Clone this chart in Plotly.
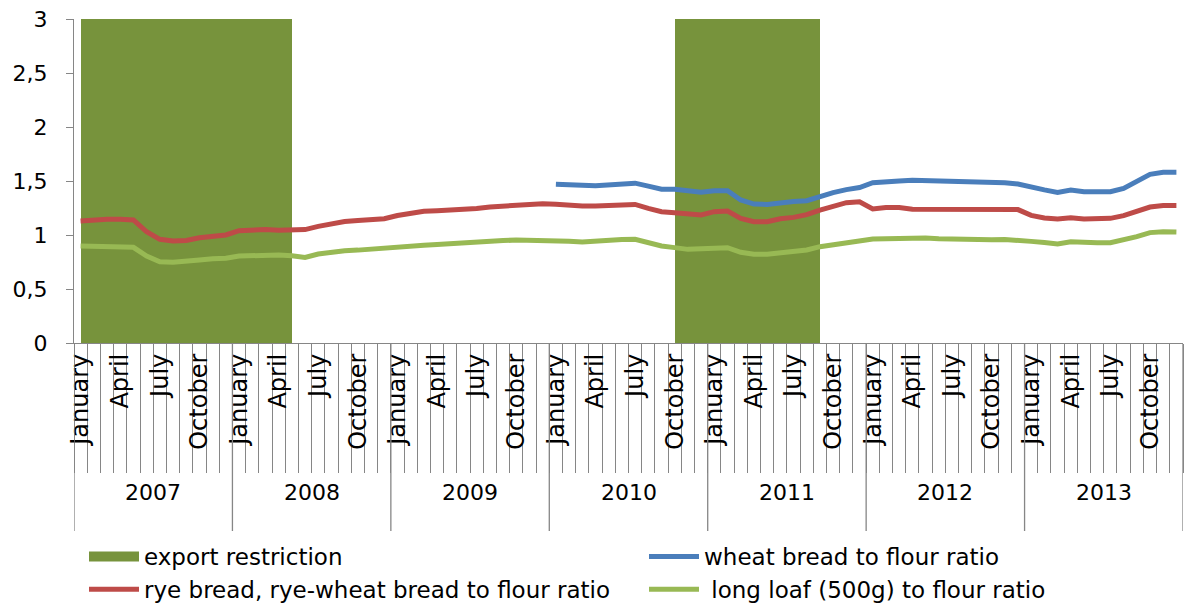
import plotly.graph_objects as go

# ---------------- data ----------------
years = ["2007", "2008", "2009", "2010", "2011", "2012", "2013"]
months = ["January", "February", "March", "April", "May", "June", "July",
          "August", "September", "October", "November", "December"]
shown_months = ["January", "April", "July", "October"]

# monthly categories 2007-01 .. 2013-12
categories = [f"{m} {y}" for y in years for m in months]

# export restriction (drawn as full-height column, value 3 = restriction in force)
export_restriction = [
    3, 3, 3, 3, 3, 3, 3, 3, 3, 3, 3, 3,   # 2007
    3, 3, 3, 3, 0, 0, 0, 0, 0, 0, 0, 0,   # 2008
    0, 0, 0, 0, 0, 0, 0, 0, 0, 0, 0, 0,   # 2009
    0, 0, 0, 0, 0, 0, 0, 0, 0, 3, 3, 3,   # 2010
    3, 3, 3, 3, 3, 3, 3, 3, 0, 0, 0, 0,   # 2011
    0, 0, 0, 0, 0, 0, 0, 0, 0, 0, 0, 0,   # 2012
    0, 0, 0, 0, 0, 0, 0, 0, 0, 0, 0, 0,   # 2013
]

wheat = [
    None, None, None, None, None, None, None, None, None, None, None, None,
    None, None, None, None, None, None, None, None, None, None, None, None,
    None, None, None, None, None, None, None, None, None, None, None, None,
    1.469, 1.469, 1.460, 1.457, 1.465, 1.480, 1.480, 1.452, 1.424, 1.424, 1.407, 1.395,
    1.410, 1.410, 1.324, 1.286, 1.283, 1.302, 1.310, 1.318, 1.361, 1.392, 1.420, 1.440,
    1.484, 1.487, 1.500, 1.506, 1.503, 1.500, 1.497, 1.491, 1.491, 1.491, 1.484, 1.472,
    1.441, 1.418, 1.395, 1.417, 1.401, 1.401, 1.401, 1.432, 1.494, 1.562, 1.580, 1.580,
]

rye = [
    1.130, 1.140, 1.145, 1.145, 1.140, 1.030, 0.960, 0.945, 0.950, 0.975, 0.990, 1.000,
    1.040, 1.050, 1.050, 1.045, 1.045, 1.050, 1.080, 1.105, 1.125, 1.135, 1.140, 1.150,
    1.180, 1.200, 1.220, 1.225, 1.230, 1.235, 1.245, 1.260, 1.270, 1.280, 1.285, 1.290,
    1.285, 1.275, 1.268, 1.268, 1.270, 1.283, 1.283, 1.247, 1.215, 1.205, 1.197, 1.185,
    1.216, 1.222, 1.154, 1.123, 1.123, 1.150, 1.163, 1.188, 1.231, 1.268, 1.299, 1.308,
    1.241, 1.255, 1.255, 1.238, 1.238, 1.238, 1.238, 1.238, 1.244, 1.238, 1.238, 1.235,
    1.182, 1.157, 1.148, 1.160, 1.148, 1.152, 1.154, 1.179, 1.216, 1.259, 1.272, 1.272,
]

long_loaf = [
    0.898, 0.893, 0.890, 0.890, 0.886, 0.805, 0.753, 0.747, 0.753, 0.768, 0.780, 0.784,
    0.805, 0.808, 0.818, 0.815, 0.808, 0.793, 0.824, 0.845, 0.855, 0.860, 0.870, 0.886,
    0.895, 0.902, 0.906, 0.912, 0.917, 0.925, 0.935, 0.940, 0.948, 0.954, 0.954, 0.953,
    0.951, 0.943, 0.935, 0.945, 0.954, 0.958, 0.960, 0.929, 0.898, 0.883, 0.867, 0.873,
    0.878, 0.882, 0.840, 0.822, 0.822, 0.836, 0.848, 0.861, 0.892, 0.910, 0.923, 0.938,
    0.963, 0.966, 0.969, 0.972, 0.972, 0.965, 0.960, 0.954, 0.955, 0.955, 0.958, 0.955,
    0.941, 0.930, 0.917, 0.938, 0.929, 0.929, 0.929, 0.954, 0.985, 1.022, 1.031, 1.028,
]

# ---------------- styling ----------------
FONT = "DejaVu Sans"
AXIS_GREY = "#868686"
C_BAR = "#77933C"
C_WHEAT = "#4A7EBB"
C_RYE = "#BE4B48"
C_LOAF = "#98B954"

W, H = 1189, 609

pos = list(range(len(categories)))  # category positions on the axis

fig = go.Figure()
fig.add_trace(go.Bar(
    x=pos, y=export_restriction, name="export restriction",
    marker=dict(color=C_BAR, line=dict(width=0)),
    offset=0, width=1, legend="legend", hoverinfo="skip",
    showlegend=False, legendgroup="export",
))
# legend swatch for the export restriction columns (wide rectangle like the original)
fig.add_trace(go.Scatter(
    x=[None], y=[None], name="export restriction", mode="lines",
    line=dict(color=C_BAR, width=16), legend="legend", legendgroup="export",
    hoverinfo="skip",
))
fig.add_trace(go.Scatter(
    x=pos, y=wheat, name="wheat bread to flour ratio", mode="lines",
    line=dict(color=C_WHEAT, width=5), legend="legend2",
))
fig.add_trace(go.Scatter(
    x=pos, y=rye, name="rye bread, rye-wheat bread to flour ratio", mode="lines",
    line=dict(color=C_RYE, width=5), legend="legend",
))
fig.add_trace(go.Scatter(
    x=pos, y=long_loaf, name="\u00a0long loaf (500g) to flour ratio", mode="lines",
    line=dict(color=C_LOAF, width=5), legend="legend2",
))

# month tick labels (January, April, July, October)
tick_pos = [i for i, c in enumerate(categories) if c.split(" ")[0] in shown_months]
tick_txt = [categories[i].split(" ")[0] for i in tick_pos]
boundaries = [i - 0.5 for i in range(len(categories) + 1)]

# plot area in pixels
p_left, p_right, p_top, p_bottom = 74, 1183.5, 19, 343
plot_h = p_bottom - p_top


def py(pix):
    """pixel row -> paper y"""
    return (p_bottom - pix) / plot_h


shapes = []
for k in range(len(years) + 1):
    xb = k * 12 - 0.5
    shapes.append(dict(type="line", xref="x", yref="paper", x0=xb, x1=xb,
                       y0=0, y1=py(531), line=dict(color=AXIS_GREY, width=1.3)))

annotations = []
for k, yname in enumerate(years):
    annotations.append(dict(text=yname, xref="x", yref="paper", x=k * 12 + 5.5,
                            y=py(492), showarrow=False,
                            font=dict(family=FONT, size=22, color="#000000"),
                            xanchor="center", yanchor="middle"))

fig.update_layout(
    width=W, height=H,
    margin=dict(l=p_left, r=W - p_right, t=p_top, b=H - p_bottom, autoexpand=False),
    paper_bgcolor="white", plot_bgcolor="white",
    separators=", ",
    font=dict(family=FONT, size=22, color="#000000"),
    showlegend=True,
    shapes=shapes, annotations=annotations,
    legend=dict(x=84 / W, xref="container", y=1 - 573 / H, yref="container",
                xanchor="left", yanchor="middle", orientation="v",
                font=dict(family=FONT, size=23, color="#000000"),
                itemwidth=50, bgcolor="rgba(0,0,0,0)", tracegroupgap=0),
    legend2=dict(x=644 / W, xref="container", y=1 - 573 / H, yref="container",
                 xanchor="left", yanchor="middle", orientation="v",
                 font=dict(family=FONT, size=23, color="#000000"),
                 itemwidth=50, bgcolor="rgba(0,0,0,0)", tracegroupgap=0),
    bargap=0,
)

fig.update_xaxes(
    range=[-0.5, len(categories) - 0.5], showgrid=False, zeroline=False,
    showline=True, linecolor=AXIS_GREY, linewidth=1.3,
    tickmode="array", tickvals=tick_pos, ticktext=tick_txt, tickangle=-90,
    ticks="", tickfont=dict(family=FONT, size=24, color="#000000"),
    minor=dict(tickmode="array", tickvals=boundaries, ticks="outside",
               ticklen=129, tickcolor=AXIS_GREY, tickwidth=1.3, showgrid=False),
)
fig.update_yaxes(
    range=[0, 3], dtick=0.5, tick0=0, showgrid=False, zeroline=False,
    showline=True, linecolor=AXIS_GREY, linewidth=1.3,
    ticks="outside", ticklen=7, tickcolor=AXIS_GREY, tickwidth=1.3,
    tickfont=dict(family=FONT, size=22, color="#000000"),
    ticklabelstandoff=14,
)

# remove the page's default body margin so the figure fills the window exactly
fig.write_html("out.html",
               config={"displayModeBar": False},
               post_script="document.body.style.margin='0';"
                           "document.body.style.overflow='hidden';")
